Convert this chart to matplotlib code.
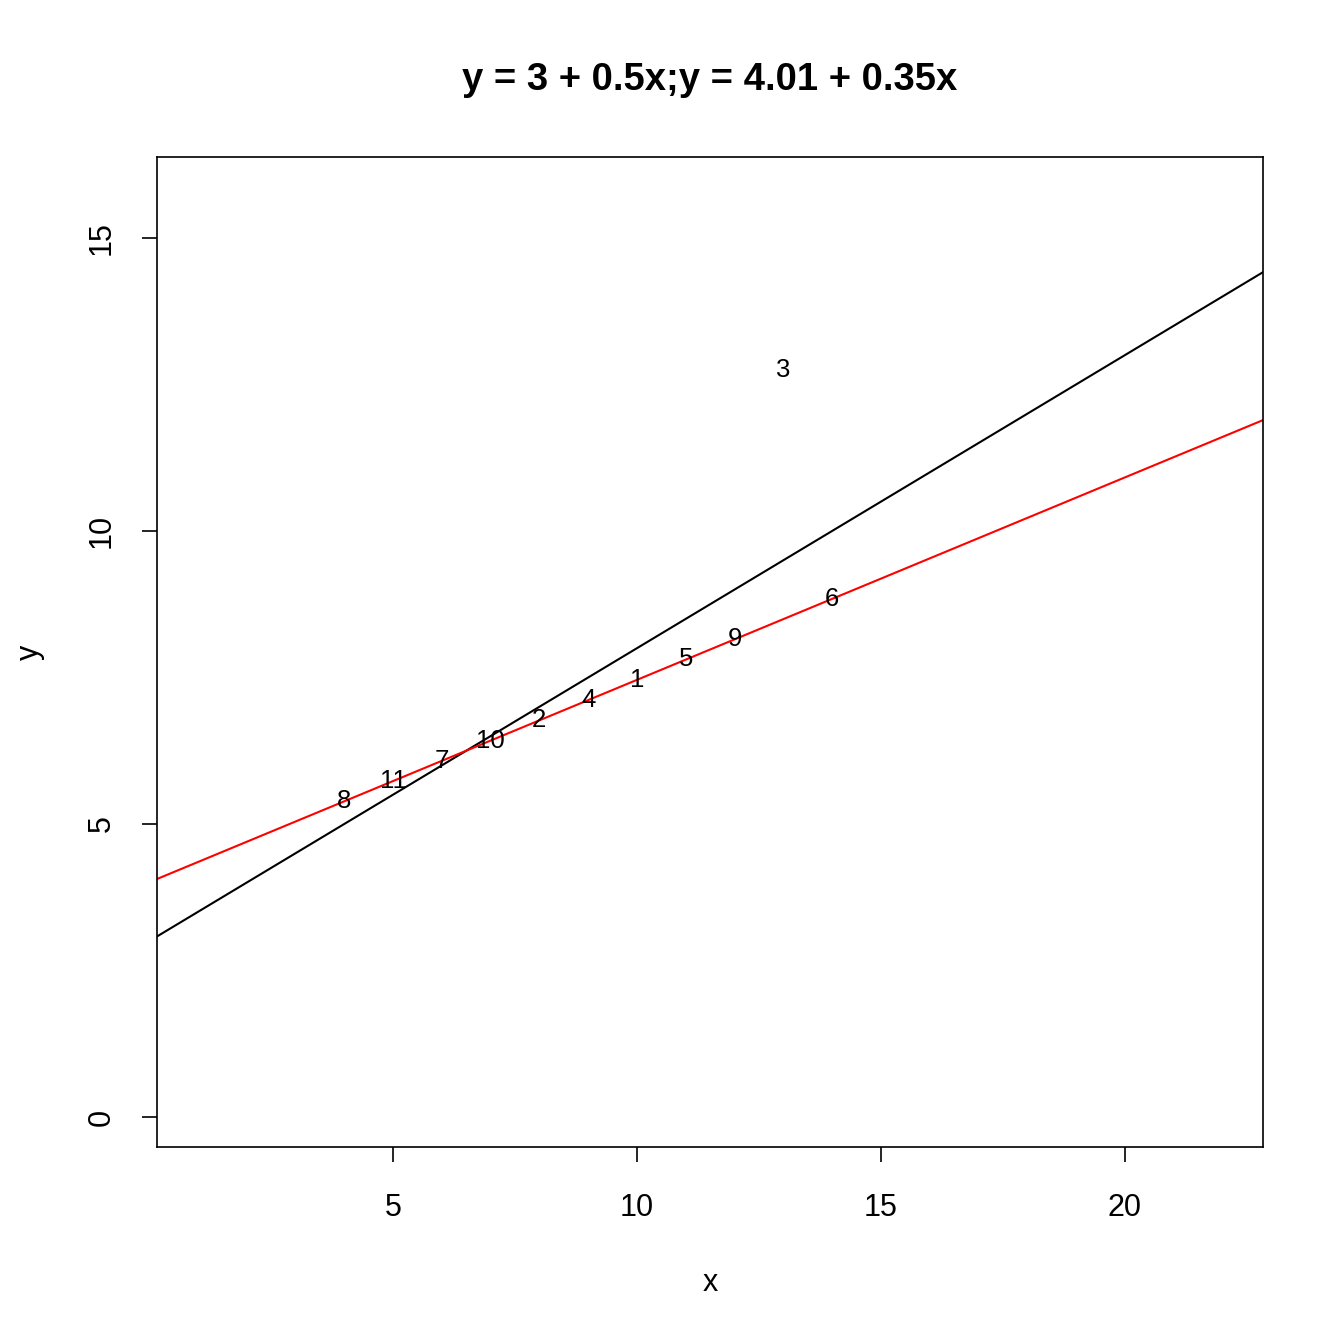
import matplotlib
matplotlib.use("Agg")
import matplotlib.pyplot as plt
import numpy as np

plt.rcParams['font.family'] = ['Liberation Sans', 'DejaVu Sans']

x = [10, 8, 13, 9, 11, 14, 6, 4, 12, 7, 5]
y = [7.46, 6.77, 12.74, 7.11, 7.81, 8.84, 6.08, 5.39, 8.15, 6.42, 5.73]
labels = [str(i + 1) for i in range(len(x))]
ols = (3.0, 0.5)
robust = (4.0056, 0.3454)
xticks = [5, 10, 15, 20]
yticks = [0, 5, 10, 15]

fig = plt.figure(figsize=(13.44, 13.44), dpi=100)
ax = fig.add_axes([157/1344, 1 - 1147/1344, (1263-157)/1344, (1147-157)/1344])
xlim = (0.164, 22.83)
ylim = (-0.51, 16.38)
ax.set_xlim(*xlim)
ax.set_ylim(*ylim)

for xi, yi, lab in zip(x, y, labels):
    ax.text(xi, yi, lab, ha='center', va='center', fontsize=18.5)

xs = np.array(xlim)
ax.plot(xs, ols[0] + ols[1] * xs, color='black', lw=1.5)
ax.plot(xs, robust[0] + robust[1] * xs, color='red', lw=1.5)

ax.set_xticks(xticks)
ax.set_yticks(yticks)
ax.tick_params(direction='out', length=11, width=1.2, labelsize=22)
ax.tick_params(axis='x', pad=22)
ax.tick_params(axis='y', pad=18)
for lab in ax.get_yticklabels():
    lab.set_rotation(90)
    lab.set_va('center')
for s in ax.spines.values():
    s.set_linewidth(1.2)
fig.text((157+1263)/2/1344, 1 - 1283/1344, 'x', ha='center', va='center', fontsize=22)
fig.text(30/1344, 1 - 652/1344, 'y', ha='center', va='center', fontsize=22, rotation=90)
fig.text((157+1263)/2/1344, 1 - 80/1344, 'y = 3 + 0.5x;y = 4.01 + 0.35x',
         ha='center', va='center', fontsize=27.5, fontweight='bold')

fig.savefig('out.png', dpi=100)
